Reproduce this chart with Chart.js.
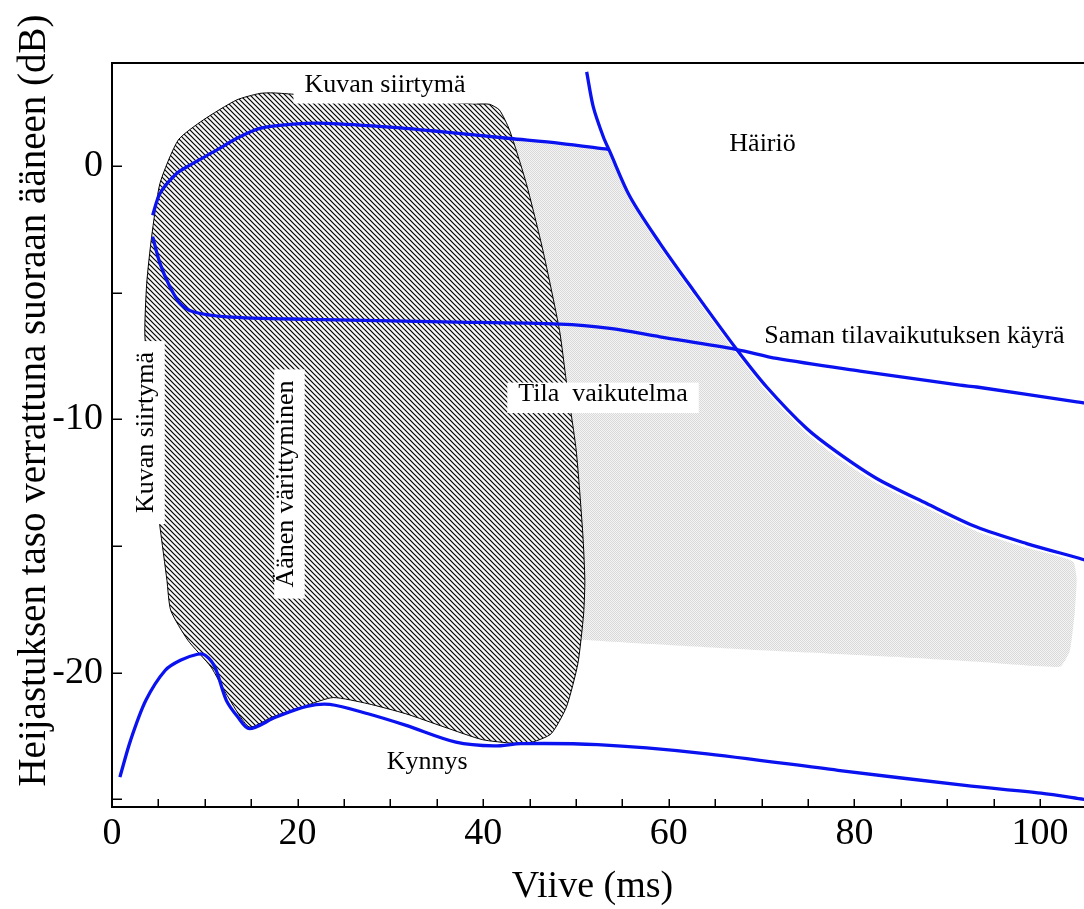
<!DOCTYPE html>
<html>
<head>
<meta charset="utf-8">
<script src="https://cdn.jsdelivr.net/npm/chart.js@4/dist/chart.umd.min.js"></script>
<style>
html,body{margin:0;padding:0;background:#fff;}
#wrap{width:1084px;height:909px;}
</style>
</head>
<body>
<div id="wrap"><canvas id="c" width="1084" height="909"></canvas></div>
<script>
// ---------- data ----------
// x: Viive (ms), y: level (dB)
const upperX = [4.38, 5.17, 6.96, 8.40, 11.27, 13.42, 15.93, 19.52, 23.11, 30.31, 35.70, 42.89, 48.28, 53.48];
const upperY = [-1.94, -1.08, -0.29, 0.04, 0.63, 1.09, 1.49, 1.66, 1.69, 1.53, 1.35, 1.09, 0.90, 0.66];

const samanX = [4.38, 5.17, 6.25, 7.33, 8.76, 12.36, 21.34, 35.70, 48.28, 53.66, 59.05, 67.32, 71.63, 80.60, 91.38, 93.18, 103.95, 104.8];
const samanY = [-2.79, -3.84, -4.77, -5.42, -5.75, -5.95, -6.05, -6.15, -6.24, -6.41, -6.74, -7.24, -7.59, -8.09, -8.65, -8.72, -9.31, -9.35];

const hairioX = [51.15, 51.86, 52.94, 53.66, 55.82, 59.05, 62.64, 67.32, 70.55, 74.86, 78.09, 82.40, 87.79, 93.18, 98.56, 104.31, 104.8];
const hairioY = [3.72, 2.34, 1.16, 0.56, -1.21, -3.05, -4.90, -7.24, -8.72, -10.36, -11.28, -12.33, -13.32, -14.25, -14.90, -15.49, -15.55];

const kynnysX = [0.85, 2.0, 3.65, 5.72, 7.37, 9.22, 10.04, 11.08, 12.32, 13.56, 14.80, 17.67, 20.98, 23.45, 27.58, 31.70, 37.06, 41.19, 44.07, 52.32, 63.36, 78.23, 91.92, 100.1, 104.8];
const kynnysY = [-24.12, -22.67, -21.09, -19.91, -19.51, -19.27, -19.31, -19.77, -21.09, -21.75, -22.21, -21.75, -21.33, -21.25, -21.62, -22.08, -22.74, -22.89, -22.80, -22.84, -23.17, -23.85, -24.45, -24.75, -25.0];

// hatched area outline (closed)
const hatchX = [5.17, 3.55, 3.74, 4.27, 5.17, 7.14, 9.83, 13.42, 15.93, 17.36, 19.88, 29.5, 39.26, 40.69, 41.76, 42.84, 44.64, 46.43, 48.22, 48.94, 50.02, 50.73, 50.95, 50.82, 50.20, 48.97, 47.32, 45.26, 43.20, 39.90, 35.78, 31.67, 27.55, 23.83, 20.96, 17.24, 14.78, 12.30, 10.66, 8.18, 6.33, 5.92, 5.17];
const hatchY = [-14.25, -6.74, -4.63, -2.79, -0.68, 1.03, 1.82, 2.61, 2.87, 2.89, 2.83, 2.66, 2.45, 2.44, 2.21, 1.42, -0.68, -3.32, -6.48, -8.45, -11.22, -14.51, -16.35, -17.67, -19.64, -21.35, -22.41, -22.74, -22.78, -22.64, -22.14, -21.62, -21.22, -20.98, -21.29, -21.75, -22.14, -20.83, -19.77, -18.72, -17.54, -16.35, -14.25];

// dotted grey area "Tila vaikutelma" outline (closed)
const tilaX = [41.5, 42.89, 48.28, 53.48, 54.2, 55.82, 59.05, 62.64, 67.32, 70.55, 74.86, 78.09, 82.40, 87.79, 93.18, 98.56, 101.5, 103.59, 103.95, 103.77, 103.23, 102.16, 93.0, 84.19, 75.0, 66.24, 58.0, 50.97, 46.0, 44.0, 41.5];
const tilaY = [1.12, 1.09, 0.90, 0.66, 0.0, -1.38, -3.22, -5.08, -7.42, -8.92, -10.56, -11.48, -12.52, -13.5, -14.42, -15.07, -15.35, -15.62, -16.3, -17.53, -19.11, -19.76, -19.56, -19.37, -19.2, -19.04, -18.87, -18.71, -18.6, -10.0, 1.12];

const xTickStep = 5, xLabelEvery = 20;
const yTickStep = 5, yLabelEvery = 10;
const xTitle = 'Viive (ms)';
const yTitle = 'Heijastuksen taso verrattuna suoraan ääneen (dB)';

const labelTexts = ['Kuvan siirtymä', 'Häiriö', 'Saman tilavaikutuksen käyrä', 'Tila  vaikutelma', 'Kuvan siirtymä', 'Äänen värittyminen', 'Kynnys'];

// ---------- presentation ----------
const annot = [
  {x: 29.42, y: 3.20, rot: 0, box: true},
  {x: 70.10, y: 0.87, rot: 0, box: false},
  {x: 86.47, y: -6.71, rot: 0, box: false},
  {x: 52.91, y: -9.02, rot: 0, box: true},
  {x: 3.69, y: -10.52, rot: -90, box: true},
  {x: 18.77, y: -12.55, rot: -90, box: true},
  {x: 33.97, y: -23.52, rot: 0, box: false}
];
const SERIF = '"Liberation Serif", "Times New Roman", Times, serif';
const BLUE = 'rgb(10,18,240)';

const pts = (xs, ys) => xs.map((x, i) => ({x: x, y: ys[i]}));

function hatchPattern() {
  const s = 5;
  const c = document.createElement('canvas');
  c.width = s; c.height = s;
  const g = c.getContext('2d');
  g.fillStyle = '#f7f7f7';
  g.fillRect(0, 0, s, s);
  g.strokeStyle = '#000';
  g.lineWidth = 1.2;
  g.beginPath();
  g.moveTo(0, 0); g.lineTo(s, s);
  g.moveTo(-1, s - 1); g.lineTo(1, s + 1);
  g.moveTo(s - 1, -1); g.lineTo(s + 1, 1);
  g.stroke();
  return g.createPattern(c, 'repeat');
}
function stipplePattern() {
  const c = document.createElement('canvas');
  c.width = 2; c.height = 2;
  const g = c.getContext('2d');
  g.fillStyle = '#f4f4f4';
  g.fillRect(0, 0, 2, 2);
  g.fillStyle = '#d9d9d9';
  g.fillRect(0, 0, 1, 1);
  g.fillRect(1, 1, 1, 1);
  return g.createPattern(c, 'repeat');
}

const lineDs = (label, xs, ys) => ({
  label: label, data: pts(xs, ys), borderColor: BLUE, borderWidth: 3.3,
  pointRadius: 0, pointHoverRadius: 0, tension: 0.3, fill: false, order: 0
});

const overlay = {
  id: 'overlay',
  afterDatasetsDraw(chart) {
    const ctx = chart.ctx, xs = chart.scales.x, ys = chart.scales.y;
    ctx.save();
    ctx.font = '26px ' + SERIF;
    ctx.textAlign = 'center';
    ctx.textBaseline = 'middle';
    annot.forEach((a, i) => {
      const t = labelTexts[i];
      ctx.save();
      ctx.translate(xs.getPixelForValue(a.x), ys.getPixelForValue(a.y));
      if (a.rot) ctx.rotate(a.rot * Math.PI / 180);
      const w = ctx.measureText(t).width;
      if (a.box) {
        ctx.fillStyle = '#fff';
        ctx.fillRect(-w / 2 - 11, -12, w + 22, 30.5);
      }
      ctx.fillStyle = '#000';
      ctx.fillText(t, 0, 0);
      ctx.restore();
    });
    ctx.restore();
  },
  afterDraw(chart) {
    const ctx = chart.ctx, xs = chart.scales.x, ys = chart.scales.y;
    const {left, right, top, bottom} = chart.chartArea;
    ctx.save();
    ctx.strokeStyle = '#000';
    ctx.lineWidth = 2;
    ctx.beginPath();
    ctx.moveTo(left - 1, top); ctx.lineTo(right + 1, top);
    ctx.moveTo(left, top - 1); ctx.lineTo(left, bottom + 1);
    ctx.moveTo(left - 1, bottom); ctx.lineTo(right + 1, bottom);
    ctx.stroke();
    ctx.lineWidth = 1.5;
    ctx.beginPath();
    ys.ticks.forEach(t => {
      const p = Math.round(ys.getPixelForValue(t.value)) + 0.25;
      ctx.moveTo(left, p); ctx.lineTo(left + 10, p);
    });
    xs.ticks.forEach(t => {
      const p = Math.round(xs.getPixelForValue(t.value)) + 0.25;
      ctx.moveTo(p, bottom); ctx.lineTo(p, bottom - 8);
    });
    ctx.stroke();
    // axis titles
    ctx.fillStyle = '#000';
    ctx.textAlign = 'center';
    ctx.textBaseline = 'alphabetic';
    ctx.font = '38px ' + SERIF;
    ctx.fillText(xTitle, 592.5, 897);
    ctx.translate(45, 400.5);
    ctx.rotate(-Math.PI / 2);
    ctx.font = '39px ' + SERIF;
    ctx.fillText(yTitle, 0, 0);
    ctx.restore();
  }
};

new Chart(document.getElementById('c'), {
  type: 'line',
  data: {
    datasets: [
      lineDs('Kynnys', kynnysX, kynnysY),
      lineDs('Häiriö', hairioX, hairioY),
      lineDs('Saman tilavaikutuksen käyrä', samanX, samanY),
      lineDs('Kuvan siirtymä', upperX, upperY),
      {
        label: 'Kuvan siirtymä / Äänen värittyminen', data: pts(hatchX, hatchY),
        borderColor: '#000', borderWidth: 1, backgroundColor: hatchPattern(),
        fill: 'shape', pointRadius: 0, pointHoverRadius: 0, tension: 0.2, order: 1
      },
      {
        label: 'Tila vaikutelma', data: pts(tilaX, tilaY),
        borderColor: 'rgba(0,0,0,0)', borderWidth: 1, backgroundColor: stipplePattern(),
        fill: 'shape', pointRadius: 0, pointHoverRadius: 0, tension: 0.15, order: 2
      }
    ]
  },
  options: {
    responsive: false,
    devicePixelRatio: 1,
    animation: false,
    events: [],
    layout: {padding: {top: 63, right: 0, bottom: 0, left: 0}},
    plugins: {legend: {display: false}, tooltip: {enabled: false}, title: {display: false}},
    scales: {
      x: {
        type: 'linear', min: 0, max: 104.74,
        grid: {display: false, drawTicks: false},
        border: {display: false},
        ticks: {
          stepSize: xTickStep, includeBounds: false, autoSkip: false,
          maxRotation: 0, minRotation: 0, padding: 4, color: '#000',
          font: {family: SERIF, size: 38},
          callback: v => (Math.abs(v % xLabelEvery) < 1e-9 ? String(v) : '')
        },
        afterFit: s => { s.height = 102; }
      },
      y: {
        type: 'linear', min: -25.3, max: 4.07,
        grid: {display: false, drawTicks: false},
        border: {display: false},
        ticks: {
          stepSize: yTickStep, includeBounds: false, autoSkip: false,
          padding: 9, color: '#000',
          font: {family: SERIF, size: 38},
          callback: v => (Math.abs(v % yLabelEvery) < 1e-9 ? String(v) : '')
        },
        afterFit: s => { s.width = 112; }
      }
    }
  },
  plugins: [overlay]
});
</script>
</body>
</html>
